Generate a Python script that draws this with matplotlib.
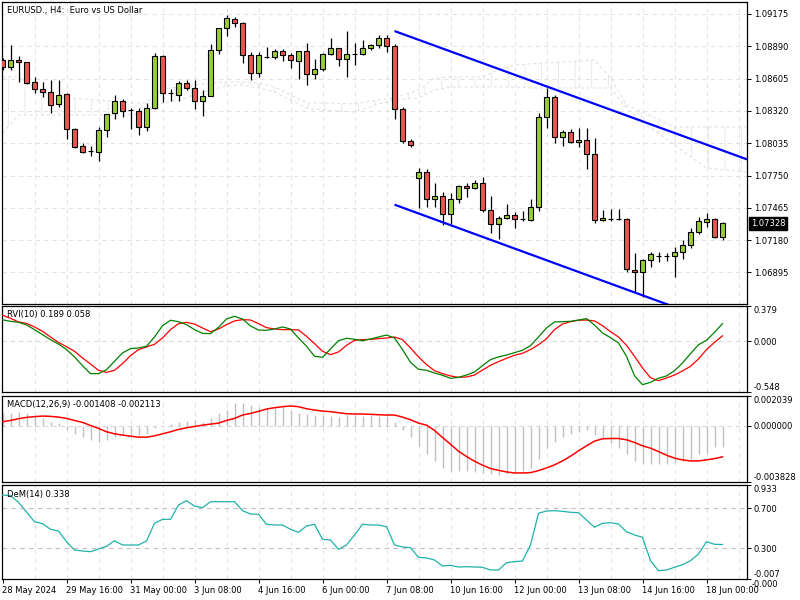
import numpy as np
import matplotlib
matplotlib.use("Agg")
import matplotlib.pyplot as plt
from matplotlib.transforms import blended_transform_factory

plt.rcParams['font.family'] = 'DejaVu Sans'
plt.rcParams['font.size'] = 6
plt.rcParams['hatch.linewidth'] = 0.6

# ---- EURUSD H4 candles (bar 0 = 28 May 2024) ----
opens = [1.08767, 1.08708, 1.08767, 1.08751, 1.08572, 1.08510, 1.08484, 1.08378, 1.08466, 1.08160,
         1.08010, 1.07966, 1.07960, 1.08151, 1.08299, 1.08405, 1.08328, 1.08322, 1.08181, 1.08343,
         1.08804, 1.08478, 1.08457, 1.08569, 1.08519, 1.08407, 1.08451, 1.08854, 1.09051, 1.09128,
         1.09098, 1.08810, 1.08652, 1.08795, 1.08793, 1.08848, 1.08813, 1.08757, 1.08846, 1.08648,
         1.08687, 1.08822, 1.08872, 1.08775, 1.08822, 1.08819, 1.08872, 1.08899, 1.08960, 1.08890,
         1.08334, 1.08052, 1.07725, 1.07778, 1.07540, 1.07567, 1.07413, 1.07540, 1.07655, 1.07637,
         1.07681, 1.07448, 1.07320, 1.07373, 1.07399, 1.07366, 1.07358, 1.07472, 1.08263, 1.08440,
         1.08087, 1.08131, 1.08043, 1.08063, 1.07937, 1.07355, 1.07370, 1.07366, 1.07364, 1.06914,
         1.06896, 1.07002, 1.07038, 1.07044, 1.07043, 1.07073, 1.07137, 1.07249, 1.07344, 1.07364,
         1.07210]
highs = [1.08787, 1.08901, 1.08804, 1.08755, 1.08619, 1.08577, 1.08592, 1.08592, 1.08480, 1.08166,
         1.08039, 1.08010, 1.08181, 1.08292, 1.08460, 1.08428, 1.08343, 1.08343, 1.08387, 1.08833,
         1.08813, 1.08510, 1.08586, 1.08592, 1.08592, 1.08504, 1.08907, 1.09050, 1.09166, 1.09145,
         1.09107, 1.08837, 1.08837, 1.08881, 1.08863, 1.08863, 1.08828, 1.08848, 1.08919, 1.08778,
         1.08828, 1.08960, 1.08877, 1.09025, 1.08916, 1.08943, 1.08907, 1.08989, 1.08989, 1.08910,
         1.08357, 1.08075, 1.07814, 1.07807, 1.07681, 1.07602, 1.07593, 1.07666, 1.07687, 1.07710,
         1.07740, 1.07569, 1.07393, 1.07499, 1.07431, 1.07437, 1.07543, 1.08304, 1.08525, 1.08460,
         1.08151, 1.08158, 1.08169, 1.08169, 1.08081, 1.07446, 1.07455, 1.07455, 1.07375, 1.07069,
         1.07016, 1.07078, 1.07078, 1.07064, 1.07122, 1.07181, 1.07284, 1.07382, 1.07417, 1.07373,
         1.07338]
lows = [1.08681, 1.08681, 1.08577, 1.08557, 1.08480, 1.08440, 1.08304, 1.08357, 1.08075, 1.07995,
        1.07951, 1.07922, 1.07881, 1.08090, 1.08251, 1.08269, 1.08158, 1.08107, 1.08145, 1.08340,
        1.08401, 1.08407, 1.08407, 1.08504, 1.08334, 1.08278, 1.08448, 1.08819, 1.08983, 1.09057,
        1.08740, 1.08590, 1.08622, 1.08784, 1.08775, 1.08763, 1.08701, 1.08599, 1.08546, 1.08604,
        1.08674, 1.08813, 1.08713, 1.08622, 1.08722, 1.08813, 1.08857, 1.08872, 1.08837, 1.08248,
        1.08034, 1.07999, 1.07461, 1.07475, 1.07475, 1.07314, 1.07320, 1.07505, 1.07563, 1.07628,
        1.07431, 1.07240, 1.07190, 1.07366, 1.07284, 1.07349, 1.07352, 1.07440, 1.08172, 1.08039,
        1.08013, 1.08034, 1.08004, 1.07805, 1.07329, 1.07353, 1.07353, 1.07358, 1.06896, 1.06720,
        1.06681, 1.06946, 1.06990, 1.06993, 1.06858, 1.07014, 1.07113, 1.07232, 1.07299, 1.07203,
        1.07181]
closes = [1.08708, 1.08769, 1.08749, 1.08569, 1.08510, 1.08487, 1.08369, 1.08463, 1.08158, 1.08004,
          1.07960, 1.07964, 1.08149, 1.08290, 1.08405, 1.08319, 1.08326, 1.08181, 1.08343, 1.08804,
          1.08480, 1.08476, 1.08563, 1.08519, 1.08407, 1.08451, 1.08854, 1.09048, 1.09137, 1.09093,
          1.08810, 1.08652, 1.08810, 1.08793, 1.08848, 1.08810, 1.08767, 1.08846, 1.08648, 1.08687,
          1.08822, 1.08872, 1.08775, 1.08819, 1.08820, 1.08872, 1.08899, 1.08960, 1.08892, 1.08334,
          1.08052, 1.08017, 1.07778, 1.07540, 1.07567, 1.07413, 1.07540, 1.07655, 1.07637, 1.07681,
          1.07448, 1.07320, 1.07373, 1.07399, 1.07364, 1.07364, 1.07472, 1.08263, 1.08440, 1.08087,
          1.08131, 1.08043, 1.08063, 1.07937, 1.07355, 1.07373, 1.07368, 1.07364, 1.06923, 1.06896,
          1.07002, 1.07058, 1.07037, 1.07043, 1.07073, 1.07137, 1.07249, 1.07346, 1.07364, 1.07210,
          1.07328]

# Ichimoku cloud outline (bar, span A, span B)
cloud_bars = [0, 2, 4, 6, 8, 12, 16, 18, 19, 20, 22, 24, 26, 28, 30, 32, 34, 36, 38, 40,
              44, 47, 49, 52, 54, 56, 60, 62, 64, 66, 70, 74, 76, 78, 80, 84, 88, 93]
span_a = [1.08619, 1.08619, 1.08522, 1.08460, 1.08434, 1.08416, 1.08390, 1.08390, 1.08451, 1.08513,
          1.08531, 1.08548, 1.08566, 1.08575, 1.08575, 1.08566, 1.08531, 1.08460, 1.08390, 1.08390,
          1.08381, 1.08416, 1.08434, 1.08504, 1.08610, 1.08619, 1.08619, 1.08681, 1.08725, 1.08734,
          1.08751, 1.08769, 1.08610, 1.08372, 1.08310, 1.08178, 1.08178, 1.08178]
span_b = [1.08125, 1.08284, 1.08284, 1.08284, 1.08284, 1.08284, 1.08284, 1.08301, 1.08354, 1.08390,
          1.08416, 1.08460, 1.08504, 1.08539, 1.08548, 1.08522, 1.08487, 1.08416, 1.08345, 1.08328,
          1.08310, 1.08381, 1.08416, 1.08434, 1.08504, 1.08531, 1.08531, 1.08531, 1.08531, 1.08522,
          1.08522, 1.08522, 1.08522, 1.08345, 1.08222, 1.08019, 1.07816, 1.07781]

# hand-drawn channel (two anchor points each, extended to the right)
chan_bars = [49, 68]
chan_upper = [1.09024, 1.08536]
chan_lower = [1.07493, 1.07003]

# RVI(10): main / signal
rvi_main = [0.230, 0.214, 0.203, 0.175, 0.124, 0.070, 0.016, -0.031, -0.091, -0.170,
            -0.264, -0.350, -0.350, -0.307, -0.217, -0.127, -0.080, -0.073, -0.055, 0.045,
            0.167, 0.225, 0.210, 0.178, 0.124, 0.084, 0.081, 0.149, 0.239, 0.268,
            0.239, 0.164, 0.120, 0.117, 0.131, 0.153, 0.131, 0.034, -0.055, -0.163,
            -0.174, -0.084, 0.005, 0.031, 0.020, 0.005, 0.023, 0.045, 0.066, 0.034,
            -0.091, -0.228, -0.303, -0.314, -0.343, -0.368, -0.400, -0.390, -0.365, -0.332,
            -0.264, -0.199, -0.170, -0.149, -0.124, -0.098, -0.048, 0.045, 0.142, 0.207,
            0.210, 0.214, 0.228, 0.243, 0.174, 0.088, 0.038, -0.020, -0.163, -0.372,
            -0.469, -0.444, -0.400, -0.375, -0.318, -0.235, -0.135, -0.038, 0.009, 0.095,
            0.189]
rvi_signal = [0.280, 0.246, 0.207, 0.192, 0.153, 0.106, 0.045, -0.013, -0.060, -0.109,
              -0.181, -0.246, -0.314, -0.336, -0.314, -0.242, -0.156, -0.091, -0.062, -0.034,
              0.034, 0.124, 0.189, 0.203, 0.185, 0.142, 0.102, 0.131, 0.178, 0.218,
              0.232, 0.228, 0.189, 0.146, 0.131, 0.124, 0.124, 0.121, 0.052, -0.027,
              -0.109, -0.145, -0.116, -0.045, 0.009, 0.016, 0.020, 0.027, 0.034, 0.045,
              0.016, -0.073, -0.170, -0.253, -0.318, -0.350, -0.375, -0.390, -0.386, -0.365,
              -0.311, -0.260, -0.221, -0.185, -0.152, -0.131, -0.091, -0.038, 0.027, 0.124,
              0.185, 0.210, 0.225, 0.228, 0.218, 0.167, 0.102, 0.045, -0.045, -0.163,
              -0.289, -0.394, -0.426, -0.397, -0.365, -0.321, -0.271, -0.192, -0.091, -0.013,
              0.058]

# MACD(12,26,9): histogram / signal
macd_hist = [0.00085, 0.00090, 0.00097, 0.00090, 0.00074, 0.00051, 0.00028, 0.00021, -0.00030, -0.00052,
             -0.00074, -0.00097, -0.00109, -0.00093, -0.00074, -0.00063, -0.00063, -0.00063, -0.00052, -0.00017,
             -0.00001, 0.00010, 0.00024, 0.00033, 0.00040, 0.00028, 0.00051, 0.00090, 0.00108, 0.00154,
             0.00158, 0.00142, 0.00131, 0.00120, 0.00120, 0.00131, 0.00108, 0.00090, 0.00081, 0.00074,
             0.00074, 0.00067, 0.00063, 0.00074, 0.00074, 0.00067, 0.00074, 0.00067, 0.00067, 0.00028,
             -0.00029, -0.00079, -0.00138, -0.00193, -0.00241, -0.00284, -0.00309, -0.00309, -0.00309, -0.00316,
             -0.00323, -0.00330, -0.00337, -0.00330, -0.00321, -0.00309, -0.00284, -0.00223, -0.00154, -0.00109,
             -0.00074, -0.00052, -0.00040, -0.00029, -0.00063, -0.00086, -0.00120, -0.00154, -0.00193, -0.00239,
             -0.00252, -0.00257, -0.00262, -0.00262, -0.00252, -0.00239, -0.00223, -0.00193, -0.00188, -0.00147,
             -0.001408]
macd_signal = [0.00028, 0.00037, 0.00049, 0.00058, 0.00063, 0.00067, 0.00065, 0.00060, 0.00051, 0.00037,
               0.00024, 0.00003, -0.00017, -0.00040, -0.00054, -0.00063, -0.00070, -0.00077, -0.00077, -0.00068,
               -0.00054, -0.00040, -0.00024, -0.00013, -0.00004, 0.00005, 0.00012, 0.00019, 0.00037, 0.00051,
               0.00074, 0.00085, 0.00099, 0.00115, 0.00124, 0.00131, 0.00136, 0.00131, 0.00117, 0.00108,
               0.00101, 0.00097, 0.00090, 0.00083, 0.00081, 0.00081, 0.00079, 0.00076, 0.00074, 0.00074,
               0.00060, 0.00042, 0.00019, 0.00005, -0.00031, -0.00079, -0.00125, -0.00173, -0.00209, -0.00241,
               -0.00268, -0.00291, -0.00303, -0.00314, -0.00321, -0.00321, -0.00319, -0.00305, -0.00287, -0.00266,
               -0.00239, -0.00207, -0.00170, -0.00136, -0.00104, -0.00088, -0.00086, -0.00086, -0.00095, -0.00113,
               -0.00136, -0.00152, -0.00175, -0.00200, -0.00220, -0.00232, -0.00239, -0.00239, -0.00232, -0.00223,
               -0.002113]

# DeMarker(14)
dem = [0.833, 0.826, 0.760, 0.663, 0.566, 0.546, 0.490, 0.473, 0.366, 0.283,
       0.273, 0.266, 0.293, 0.320, 0.376, 0.333, 0.333, 0.333, 0.373, 0.550,
       0.590, 0.590, 0.733, 0.776, 0.723, 0.706, 0.766, 0.766, 0.766, 0.766,
       0.676, 0.643, 0.640, 0.540, 0.533, 0.533, 0.490, 0.460, 0.523, 0.540,
       0.390, 0.383, 0.290, 0.333, 0.433, 0.540, 0.533, 0.533, 0.516, 0.333,
       0.313, 0.306, 0.210, 0.203, 0.183, 0.123, 0.130, 0.113, 0.116, 0.113,
       0.110, 0.083, 0.083, 0.156, 0.166, 0.173, 0.333, 0.650, 0.673, 0.676,
       0.670, 0.660, 0.656, 0.583, 0.510, 0.550, 0.556, 0.543, 0.466, 0.433,
       0.410, 0.176, 0.076, 0.083, 0.110, 0.136, 0.176, 0.243, 0.366, 0.340,
       0.338]

price_ticks = [1.09175, 1.08890, 1.08605, 1.08320, 1.08035, 1.07750, 1.07465, 1.07180, 1.06895]
time_ticks = [0, 8, 16, 24, 32, 40, 48, 56, 64, 72, 80, 88]
time_labels = ["28 May 2024", "29 May 16:00", "31 May 00:00", "3 Jun 08:00", "4 Jun 16:00",
               "6 Jun 00:00", "7 Jun 08:00", "10 Jun 16:00", "12 Jun 00:00", "13 Jun 08:00",
               "14 Jun 16:00", "18 Jun 00:00"]

BULL = '#9ACD32'
BEAR = '#EF5350'
GRID = '#E2E2E2'
DASH = (0, (4, 4))

W, H = 800, 600
fig = plt.figure(figsize=(8, 6), dpi=100)
fig.patch.set_facecolor('white')


def px_axes(left, top, right, bottom):
    return fig.add_axes([left / W, 1 - bottom / H, (right - left) / W, (bottom - top) / H])


ax_main = px_axes(2, 2, 747, 304)
ax_rvi = px_axes(2, 306, 747, 392)
ax_macd = px_axes(2, 396, 747, 482)
ax_dem = px_axes(2, 485, 747, 579)
axes = [ax_main, ax_rvi, ax_macd, ax_dem]

xlim = (-0.0625, 93.0625)
for ax in axes:
    ax.set_xlim(*xlim)
    for s in ax.spines.values():
        s.set_linewidth(0.9)
        s.set_color('black')
    ax.yaxis.tick_right()
    ax.tick_params(axis='y', which='both', direction='out', length=3, width=0.7,
                   pad=2, labelsize=6, left=False, right=True)
    for xb in range(4, 93, 4):
        ax.axvline(xb, color=GRID, lw=0.75, ls=DASH, zorder=0)
    ax.set_xticks([])

# ---- main price panel ----
ax_main.set_ylim(1.06617, 1.09280)
ax_main.set_yticks(price_ticks)
ax_main.set_yticklabels([f"{p:.5f}" for p in price_ticks])
for p in price_ticks:
    ax_main.axhline(p, color=GRID, lw=0.75, ls=DASH, zorder=0)

# Ichimoku cloud (very faint hatch)
ax_main.fill_between(cloud_bars, span_a, span_b, facecolor='none', edgecolor='#E6E6E6',
                     hatch='|', linewidth=0, zorder=1)
ax_main.plot(cloud_bars, span_a, color='#DDDDDD', lw=0.7, ls=(0, (3, 3)), zorder=1)
ax_main.plot(cloud_bars, span_b, color='#DDDDDD', lw=0.7, ls=(0, (3, 3)), zorder=1)

o = np.array(opens)
h = np.array(highs)
l = np.array(lows)
c = np.array(closes)
x = np.arange(len(o))
up = c >= o
ax_main.vlines(x, l, h, color='black', lw=0.9, zorder=3)
ax_main.bar(x, np.maximum(np.abs(c - o), 1e-6), bottom=np.minimum(o, c), width=0.58,
            color=np.where(up, BULL, BEAR), edgecolor='black', linewidth=0.8, zorder=4)

# channel
for chan in (chan_upper, chan_lower):
    slope = (chan[1] - chan[0]) / (chan_bars[1] - chan_bars[0])
    xs = np.array([chan_bars[0], xlim[1]])
    ax_main.plot(xs, chan[0] + slope * (xs - chan_bars[0]), color='#0000FF', lw=1.6,
                 zorder=5, solid_capstyle='butt')

ax_main.annotate("EURUSD., H4:  Euro vs US Dollar", xy=(0, 1), xycoords='axes fraction',
                 xytext=(5, -8), textcoords='offset pixels', va='center', ha='left', fontsize=6)

tr = blended_transform_factory(ax_main.transAxes, ax_main.transData)
ax_main.text(1.005, closes[-1], f"{closes[-1]:.5f}", transform=tr, ha='left', va='center',
             color='white', fontsize=6, zorder=10,
             bbox=dict(facecolor='black', edgecolor='black', boxstyle='square,pad=0.25'))

# ---- RVI ----
ax_rvi.set_ylim(-0.548, 0.379)
ax_rvi.axhline(0, color='#D8D8D8', lw=0.75, ls=DASH, zorder=0)
ax_rvi.plot(x, rvi_signal, color='#FF0000', lw=0.9, zorder=3)
ax_rvi.plot(x, rvi_main, color='#008000', lw=0.9, zorder=4)
ax_rvi.set_yticks([0.379, 0.0, -0.548])
ax_rvi.set_yticklabels(['0.379', '0.000', '-0.548'])
ax_rvi.annotate(f"RVI(10) {rvi_main[-1]:.3f} {rvi_signal[-1]:.3f}", xy=(0, 1),
                xycoords='axes fraction', xytext=(5, -9), textcoords='offset pixels',
                va='center', ha='left', fontsize=6)

# ---- MACD ----
ax_macd.set_ylim(-0.003828, 0.002039)
ax_macd.axhline(0, color='#D8D8D8', lw=0.75, ls=DASH, zorder=0)
ax_macd.vlines(x, 0, macd_hist, color='#C0C0C0', lw=1.0, zorder=2)
ax_macd.plot(x, macd_signal, color='#FF0000', lw=1.1, zorder=3)
ax_macd.set_yticks([0.002039, 0.0, -0.003828])
ax_macd.set_yticklabels(['0.002039', '0.000000', '-0.003828'])
ax_macd.annotate(f"MACD(12,26,9) {macd_hist[-1]:.6f} {macd_signal[-1]:.6f}",
                 xy=(0, 1), xycoords='axes fraction', xytext=(5, -9), textcoords='offset pixels',
                 va='center', ha='left', fontsize=6)

# ---- DeMarker ----
ax_dem.set_ylim(-0.007, 0.933)
for lvl in (0.7, 0.3):
    ax_dem.axhline(lvl, color='#C0C0C0', lw=0.8, ls=DASH, zorder=1)
ax_dem.plot(x, dem, color='#20B2AA', lw=0.9, zorder=3)
ax_dem.set_yticks([0.933, 0.7, 0.3, -0.007])
ax_dem.set_yticklabels(['0.933', '0.700', '0.300', '-0.007'])
ax_dem.annotate(f"DeM(14) {dem[-1]:.3f}", xy=(0, 1), xycoords='axes fraction',
                xytext=(5, -9), textcoords='offset pixels', va='center', ha='left', fontsize=6)

# extreme tick labels sit inside the panel, like the terminal does
for ax in (ax_rvi, ax_macd, ax_dem):
    labels = ax.get_yticklabels()
    labels[0].set_va('top')
    labels[-1].set_va('bottom')
# second (overprinted) bottom label of the DeM scale, nudged just below the first one
ax_dem.annotate("-0.000", xy=(1, 0), xycoords='axes fraction', xytext=(5, -1),
                textcoords='offset pixels', ha='left', va='top', fontsize=6)

# time axis
ax_dem.set_xticks(time_ticks)
ax_dem.set_xticklabels(time_labels, ha='left')
ax_dem.tick_params(axis='x', direction='out', length=3, width=0.7, pad=2, labelsize=6)

fig.savefig("out.png", dpi=100)
